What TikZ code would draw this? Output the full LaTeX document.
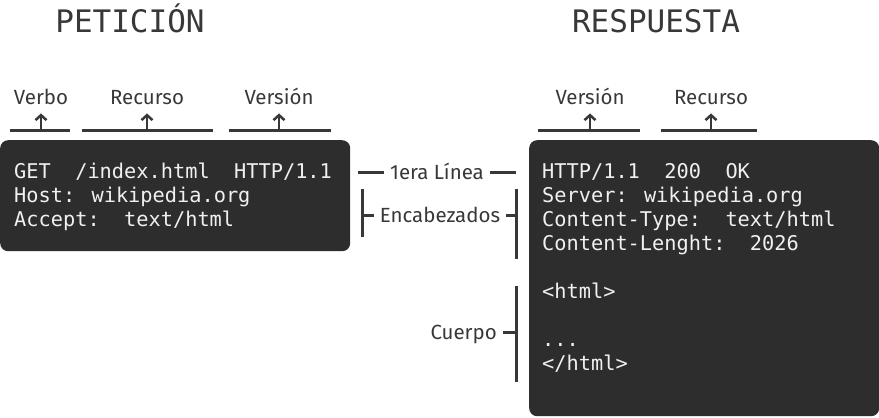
\documentclass[tikz,border=0pt]{standalone}
\usepackage{fontspec}
\setmainfont{Fira Sans}
\setmonofont{DejaVu Sans Mono}
\newfontfamily\titlefont{DejaVu Sans Mono}
\usetikzlibrary{arrows.meta}
\definecolor{boxgray}{HTML}{2C2D2C}
\definecolor{inkgray}{HTML}{383838}
\tikzset{
  lbl/.style={text=inkgray, font=\fontsize{20.5}{24}\selectfont, inner sep=6pt, anchor=base},
  code/.style={text=white!94!black, font=\ttfamily\fontsize{20.3}{24}\selectfont, anchor=base west, inner sep=0pt},
  codebox/.style={fill=boxgray, rounded corners=8pt, anchor=north west, inner sep=0pt},
  bar/.style={draw=inkgray, line width=3pt},
  ptr/.style={draw=inkgray, line width=2.5pt, -{Straight Barb[length=5pt, width=11pt]}, shorten >=3pt},
  title/.style={text=inkgray, font=\titlefont\fontsize{31}{36}\selectfont, anchor=base}
}
\begin{document}
\begin{tikzpicture}[x=1pt, y=-1pt]
\useasboundingbox (0,0) rectangle (879,418);

% titulos
\node[title] (peticion) at (130,32) {PETICIÓN};
\node[title] (respuesta) at (656,32) {RESPUESTA};

% cajas
\node[codebox, minimum width=350pt, minimum height=111pt] (reqbox) at (0,140) {};
\node[codebox, minimum width=350pt, minimum height=276pt] (resbox) at (529,140) {};

\node[code] (req1) at (14,178) {GET~~/index.html~~HTTP/1.1};
\node[code] (req2) at (14,202) {Host: wikipedia.org};
\node[code] (req3) at (14,226) {Accept:~~text/html};

\node[code] (res1) at (542,178) {HTTP/1.1~~200~~OK};
\node[code] (res2) at (542,202) {Server: wikipedia.org};
\node[code] (res3) at (542,226) {Content-Type:~~text/html};
\node[code] (res4) at (542,250) {Content-Lenght:~~2026};
\node[code] (res6) at (542,298) {<html>};
\node[code] (res8) at (542,346) {...};
\node[code] (res9) at (542,370) {</html>};

% etiquetas de arriba
\foreach \name/\txt/\x/\a/\b in {verbo/Verbo/41/10/70, recurso/Recurso/147/82/213,
    version/Versión/279/229/331, versionb/Versión/590/538/640, recursob/Recurso/711/661/757}
{
    \node[lbl] (\name) at (\x,104) {\txt};
    \coordinate (\name A) at (\a,130);
    \coordinate (\name B) at (\b,130);
    \draw[bar] (\name A) -- (\name B);
    \draw[ptr] (\name A -| \name) -- (\name.south);
}

% 1era linea
\node[lbl] (linea) at (437,179) {1era Línea};
\coordinate (lineaA) at (358,172);
\coordinate (lineaB) at (516,172);
\draw[bar] (lineaA) -- (lineaA -| linea.west);
\draw[bar] (lineaB -| linea.east) -- (lineaB);

% encabezados
\node[lbl] (encab) at (440,222) {Encabezados};
\coordinate (encabA) at (362,189);
\coordinate (encabB) at (362,237);
\coordinate (encabC) at (516,189);
\coordinate (encabD) at (516,259);
\coordinate (encabL) at (362,215);
\coordinate (encabR) at (516,215);
\draw[bar] (encabA) -- (encabB);
\draw[bar] (encabC) -- (encabD);
\draw[bar] (encabL) -- (encabL -| encab.west);
\draw[bar] (encabR -| encab.east) -- (encabR);

% cuerpo
\node[lbl, anchor=base east] (cuerpo) at (503,339) {Cuerpo};
\coordinate (cuerpoA) at (516,286);
\coordinate (cuerpoB) at (516,382);
\coordinate (cuerpoR) at (516,332);
\draw[bar] (cuerpoA) -- (cuerpoB);
\draw[bar] (cuerpoR -| cuerpo.east) -- (cuerpoR);

\end{tikzpicture}
\end{document}
